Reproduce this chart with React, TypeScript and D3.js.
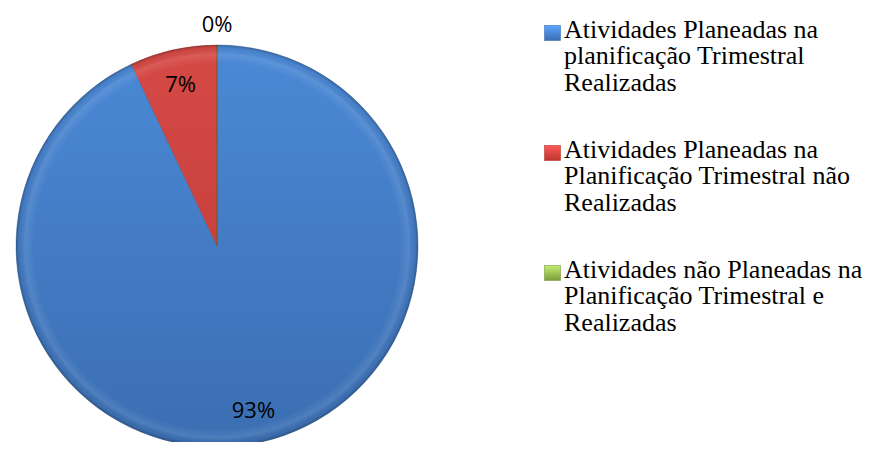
import { useEffect, useRef } from "react";
import * as d3 from "d3";

// slice names, in legend order (lines as they wrap in the legend)
const categories = [
  ["Atividades Planeadas na", "planificação Trimestral", "Realizadas"],
  ["Atividades Planeadas na", "Planificação Trimestral não", "Realizadas"],
  ["Atividades não Planeadas na", "Planificação Trimestral e", "Realizadas"],
];
const values = [93, 7, 0];
const labels = ["93%", "7%", "0%"];
const colors = [
  { light: "#4b89d6", dark: "#3b6eb2" },
  { light: "#d64a46", dark: "#bb3632" },
  { light: "#a4c65e", dark: "#7c9c3c" },
];

export default function App() {
  const svgRef = useRef<SVGSVGElement>(null);

  useEffect(() => {
    const width = 871;
    const height = 450;
    const svg = d3.select(svgRef.current).attr("width", width).attr("height", height);
    svg.selectAll("*").remove();

    const cx = 217;
    const cy = 246;
    const radius = 201;

    const defs = svg.append("defs");
    colors.forEach((c, i) => {
      // pie fill, in the pie group's own coordinates (origin = centre)
      const g = defs
        .append("linearGradient")
        .attr("id", `fill${i}`)
        .attr("gradientUnits", "userSpaceOnUse")
        .attr("x1", 0)
        .attr("y1", -radius)
        .attr("x2", 0)
        .attr("y2", radius);
      g.append("stop").attr("offset", "0%").attr("stop-color", c.light);
      g.append("stop").attr("offset", "100%").attr("stop-color", c.dark);

      const m = defs
        .append("linearGradient")
        .attr("id", `mark${i}`)
        .attr("x1", 0)
        .attr("y1", 0)
        .attr("x2", 0)
        .attr("y2", 1);
      m.append("stop").attr("offset", "0%").attr("stop-color", d3.color(c.light)!.brighter(0.5).toString());
      m.append("stop").attr("offset", "100%").attr("stop-color", c.dark);
    });

    // bevel: soft light rim inside the edge, dark line at the very edge
    const bevel = defs
      .append("radialGradient")
      .attr("id", "bevel")
      .attr("gradientUnits", "userSpaceOnUse")
      .attr("cx", 0)
      .attr("cy", 0)
      .attr("r", radius);
    bevel.append("stop").attr("offset", "0%").attr("stop-color", "#fff").attr("stop-opacity", 0);
    bevel.append("stop").attr("offset", "91%").attr("stop-color", "#fff").attr("stop-opacity", 0);
    bevel.append("stop").attr("offset", "95.5%").attr("stop-color", "#fff").attr("stop-opacity", 0.1);
    bevel.append("stop").attr("offset", "98.5%").attr("stop-color", "#000").attr("stop-opacity", 0.04);
    bevel.append("stop").attr("offset", "100%").attr("stop-color", "#000").attr("stop-opacity", 0.25);

    const pie = d3
      .pie<number>()
      .sort(null)
      .value((d) => d);
    const arcs = pie(values);

    const arc = d3.arc<d3.PieArcDatum<number>>().innerRadius(0).outerRadius(radius);
    const labelArc = d3
      .arc<d3.PieArcDatum<number>>()
      .innerRadius(radius * 0.83)
      .outerRadius(radius * 0.83);
    const outerLabelArc = d3
      .arc<d3.PieArcDatum<number>>()
      .innerRadius(radius + 22)
      .outerRadius(radius + 22);

    const g = svg.append("g").attr("transform", `translate(${cx},${cy})`);

    g.selectAll("path.slice")
      .data(arcs)
      .join("path")
      .attr("class", "slice")
      .attr("d", arc)
      .attr("fill", (d, i) => `url(#fill${i})`)
      .attr("stroke", (d, i) => d3.color(colors[i].dark)!.darker(0.8).toString())
      .attr("stroke-opacity", 0.45)
      .attr("stroke-width", 0.8);

    g.append("circle")
      .attr("r", radius)
      .attr("fill", "url(#bevel)")
      .attr("pointer-events", "none");

    // data labels
    g.selectAll("text.label")
      .data(arcs)
      .join("text")
      .attr("class", "label")
      .attr("transform", (d) => {
        const [x, y] = d.value === 0 ? outerLabelArc.centroid(d) : labelArc.centroid(d);
        return `translate(${x},${y})`;
      })
      .attr("text-anchor", "middle")
      .attr("dominant-baseline", "central")
      .attr("font-family", "Open Sans, sans-serif")
      .attr("font-size", 22)
      .attr("fill", "#000")
      .text((d, i) => labels[i]);

    // legend
    const legend = svg.append("g").attr("transform", "translate(544, 38)");
    const entry = legend
      .selectAll("g.entry")
      .data(categories)
      .join("g")
      .attr("class", "entry")
      .attr("transform", (d, i) => `translate(0, ${i * 120})`);

    entry
      .append("rect")
      .attr("x", 0.5)
      .attr("y", -12.5)
      .attr("width", 16)
      .attr("height", 15)
      .attr("fill", (d, i) => `url(#mark${i})`)
      .attr("stroke", (d, i) => colors[i].dark)
      .attr("stroke-width", 0.6);

    entry
      .append("text")
      .attr("font-family", "Liberation Serif")
      .attr("font-size", 26)
      .attr("fill", "#000")
      .selectAll("tspan")
      .data((d) => d)
      .join("tspan")
      .attr("x", 20)
      .attr("y", (d, i) => i * 26.4)
      .text((d) => d);
  }, []);

  return (
    <div style={{ margin: -8 }}>
      <svg ref={svgRef} style={{ display: "block" }}></svg>
    </div>
  );
}
